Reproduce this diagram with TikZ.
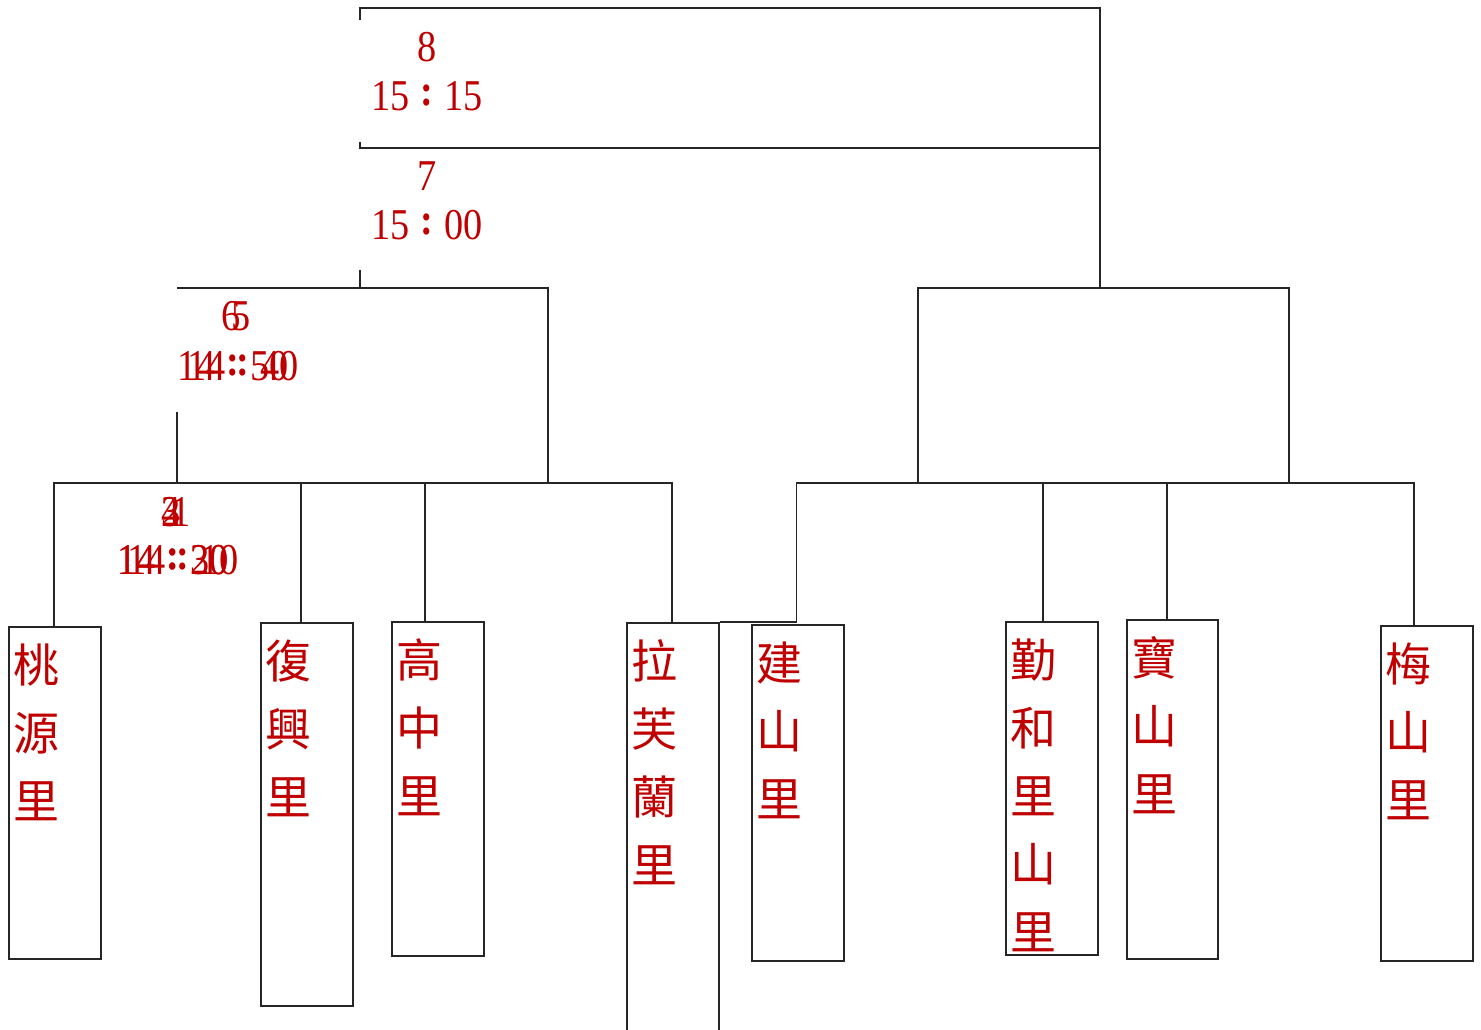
\documentclass[tikz,border=0pt]{standalone}
\usepackage{fontspec}
\newfontfamily\numf[FakeStretch=0.87]{Liberation Serif}
\newfontfamily\cjk{Noto Sans CJK TC}
\definecolor{labred}{HTML}{C00000}
\definecolor{linec}{HTML}{262626}
\usetikzlibrary{calc}
\newcommand\tstr[2]{#1\hspace{11pt}\raisebox{5pt}{\bfseries:}\hspace{11pt}#2}
\tikzset{
  wire/.style={draw=linec, line width=1.5pt},
  vbox/.style={draw=linec, line width=1.5pt, inner sep=0pt, anchor=north west, minimum width=92pt},
  ch/.style={text=labred, font=\cjk\fontsize{46}{46}\selectfont, inner sep=0pt},
  lbl/.style={text=labred, font=\numf\fontsize{44}{44}\selectfont, inner sep=0pt, anchor=base west},
  lblc/.style={text=labred, font=\numf\fontsize{44}{44}\selectfont, inner sep=0pt, anchor=base},
}
\newcommand\vchars[3]{%
  \foreach \c [count=\i] in {#3} {
    \node[ch] (#2-\i) at ($(#1.north west)+(28,39+68*\i-68)$) {\c};
  }%
}
\begin{document}
\begin{tikzpicture}[x=1pt,y=-1pt]
\useasboundingbox (0,0) rectangle (1481,1029);
\fill[white] (0,0) rectangle (1481,1029);

% boxes
\node[vbox, minimum height=332pt] (taoyuan) at (8,626) {};
\node[vbox, minimum height=383pt] (fuxing) at (260,622) {};
\node[vbox, minimum height=334pt] (gaozhong) at (391,621) {};
\node[vbox, minimum height=418pt] (lafu) at (626,622) {};
\node[vbox, minimum height=336pt] (jianshan) at (751,624) {};
\node[vbox, minimum height=333pt] (qinhe) at (1005,621) {};
\node[vbox, minimum height=339pt, minimum width=91pt] (baoshan) at (1126,619) {};
\node[vbox, minimum height=335pt] (meishan) at (1380,625) {};

% vertical names
\vchars{taoyuan}{ty}{桃,源,里}
\vchars{fuxing}{fx}{復,興,里}
\vchars{gaozhong}{gz}{高,中,里}
\vchars{lafu}{lf}{拉,芙,蘭,里}
\vchars{jianshan}{js}{建,山,里}
\begin{scope}
  \clip (qinhe.north west) rectangle (qinhe.south east);
  \vchars{qinhe}{qh}{勤,和,里,山,里}
\end{scope}
\vchars{baoshan}{bs}{寶,山,里}
\vchars{meishan}{ms}{梅,山,里}

% first round, left group
\draw[wire] ([xshift=-1pt]taoyuan.north) -- ++(0,-143) -| ([xshift=-1pt]lafu.north);
\draw[wire] ([xshift=-6pt]fuxing.north) -- ++(0,-139);
\draw[wire] ([xshift=-13pt]gaozhong.north) -- ++(0,-138);
% first round, right group
\draw[wire] (lafu.north east) -- ++(77,0) -- ++(0,-139) -| ([xshift=-13pt]meishan.north);
\draw[wire] ([xshift=-9pt]qinhe.north) -- ++(0,-138);
\draw[wire] ([xshift=-5.5pt]baoshan.north) -- ++(0,-136);

% second round
\coordinate (lb) at (177,483);
\coordinate (rb) at (918,483);
\draw[wire] (lb) -- ++(0,-71);
\draw[wire] (177,288) -- (548,288) -- (548,483);
\draw[wire] (rb) -- ++(0,-195) -- (1289,288) -- (1289,483);

% top
\draw[wire] (360,20) -- (360,8) -- (1100,8) -- (1100,288);
\draw[wire] (360,142) -- (360,148) -- (1100,148);
\draw[wire] (360,270) -- (360,288);

% match labels
\node[lblc] (n8) at (427,61) {8};
\node[lbl] (t8) at (371,110) {\tstr{15}{15}};
\node[lblc] (n7) at (427,190) {7};
\node[lbl] (t7) at (371,239) {\tstr{15}{00}};

\node[lblc] (n6) at (231,330) {6};
\node[lblc] (n5) at (241,330) {5};
\node[lbl] (t6) at (177,380) {\tstr{14}{50}};
\node[lbl] (t5) at (187,380) {\tstr{14}{40}};

\node[lblc] (n2) at (171,526) {2};
\node[lblc] (n4) at (171,526) {4};
\node[lblc] (n3) at (171,526) {3};
\node[lblc] (n1) at (181,526) {1};
\node[lbl] (t2) at (117,574) {\tstr{14}{20}};
\node[lbl] (t3) at (117,574) {\tstr{14}{30}};
\node[lbl] (t1) at (127,574) {\tstr{14}{10}};
\end{tikzpicture}
\end{document}
